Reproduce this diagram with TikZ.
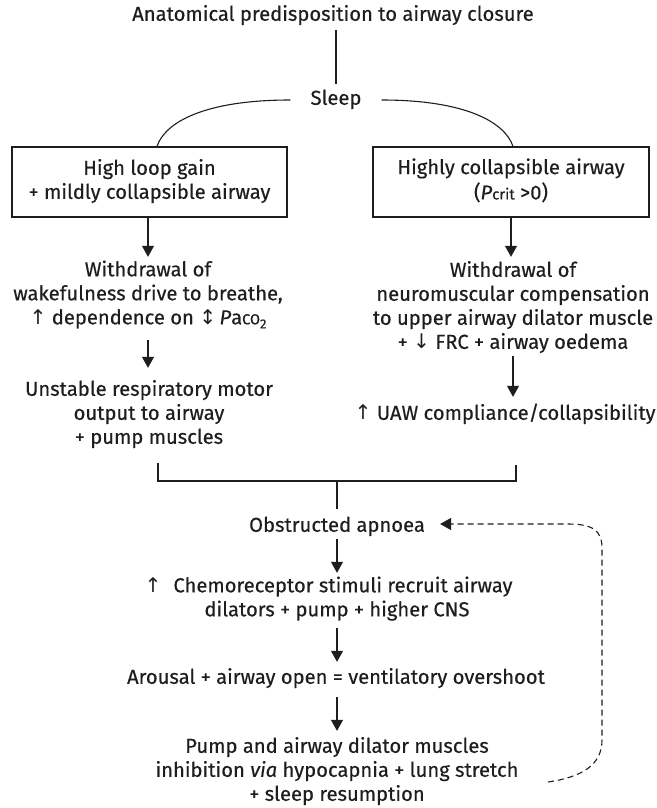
\documentclass[tikz,border=0pt]{standalone}
\usepackage{fontspec}
\setmainfont{Fira Sans}[UprightFeatures={FakeBold=0.4}, ItalicFeatures={FakeBold=0.4}]
\newfontfamily\arr{DejaVu Sans}
\usetikzlibrary{arrows.meta}
\definecolor{ink}{RGB}{30,30,30}
\begin{document}
\begin{tikzpicture}[x=1pt,y=-1pt,
  every node/.style={text=ink, font=\fontsize{20.2}{24}\selectfont, inner sep=0pt, align=center},
  ln/.style={draw=ink, line width=1.1pt},
  arw/.style={ln, -{Triangle[width=12pt,length=11pt]}},
  box/.style={draw=ink, line width=1.1pt, minimum width=275pt, minimum height=70pt}]
\useasboundingbox (0,0) rectangle (656,808);

\node (title) at (333,16) {\strut Anatomical predisposition to airway closure};
\node[inner xsep=20pt] (sleep) at (336,100) {\strut Sleep};
\node[box] (lbox) at (149.5,182) {\strut High loop gain\\\strut + mildly collapsible airway};
\node[box, minimum width=276pt] (rbox) at (511,182) {\strut Highly collapsible airway\\\strut (\textit{P}{\fontsize{15}{15}\selectfont crit} >0)};
\node (lw) at (148,295.5) {\strut Withdrawal of\\\strut wakefulness drive to breathe,\\\strut{\arr↑} dependence on {\arr↕}\,\textit{P}a{\fontsize{14.5}{13}\selectfont CO}\raisebox{-4pt}{\fontsize{13}{12}\selectfont 2}};
\node (lu) at (149,415) {\strut Unstable respiratory motor\\\strut output to airway\\\strut + pump muscles};
\node (rw) at (513,308) {\strut Withdrawal of\\\strut neuromuscular compensation\\\strut to upper airway dilator muscle\\\strut + {\arr↓} FRC + airway oedema};
\node (ru) at (505,415) {\strut{\arr↑} UAW compliance/collapsibility};
\node (apn) at (337,527) {\strut Obstructed apnoea};
\node (chemo) at (337,599.5) {\strut{\arr↑}\hspace{12pt}Chemoreceptor stimuli recruit airway\hspace*{17pt}\\\strut dilators + pump + higher CNS};
\node (arous) at (336,679) {\strut Arousal + airway open = ventilatory overshoot};
\node (pump) at (337,772) {\strut Pump and airway dilator muscles\\\strut inhibition \textit{via} hypocapnia + lung stretch\\\strut + sleep resumption};

% top connectors
\draw[ln, shorten <=2pt, shorten >=4pt] (sleep.north |- title.south) -- (sleep.north);
\draw[ln] (sleep.west) .. controls (205,100) and (165,122) .. ([xshift=7.5pt]lbox.north);
\draw[ln] (sleep.east) .. controls (465,100) and (505,122) .. ([xshift=2pt]rbox.north);

% left column
\draw[arw, shorten >=2.5pt] (lbox.south -| lw.north) -- (lw.north);
\draw[arw, shorten <=8.5pt, shorten >=11pt] (lw.south) -- (lw.south |- lu.north);
% right column
\draw[arw, shorten >=3pt] (rbox.south) -- (rbox.south |- rw.north);
\draw[arw, shorten >=6pt] (rw.south) -- (rw.south |- ru.north);

% bracket
\coordinate (brL) at (158,463);
\coordinate (brR) at (516,465);
\coordinate (brM) at (337,481);
\draw[ln] (brL) -- (brL |- brM) -- (brR |- brM) -- (brR);
\draw[ln] (brM) -- ([yshift=6pt]apn.north);

% central column
\draw[arw, shorten >=2.5pt] (apn.south) -- (apn.south |- chemo.north);
\draw[arw, shorten <=4.5pt, shorten >=5pt] (apn.south |- chemo.south) -- (apn.south |- arous.north);
\draw[arw, shorten <=6pt, shorten >=5pt] (apn.south |- arous.south) -- (apn.south |- pump.north);

% feedback loop
\coordinate (dS) at (548,782);
\draw[ln, dash pattern=on 6pt off 4pt, -{Triangle[width=12pt,length=11pt]}]
  (dS) .. controls (582,777) and (602,765) .. (602,740) -- (602,548)
  .. controls (602,530) and (592,524) .. (568,524) -- ([xshift=15pt,yshift=3pt]apn.east);
\end{tikzpicture}
\end{document}
